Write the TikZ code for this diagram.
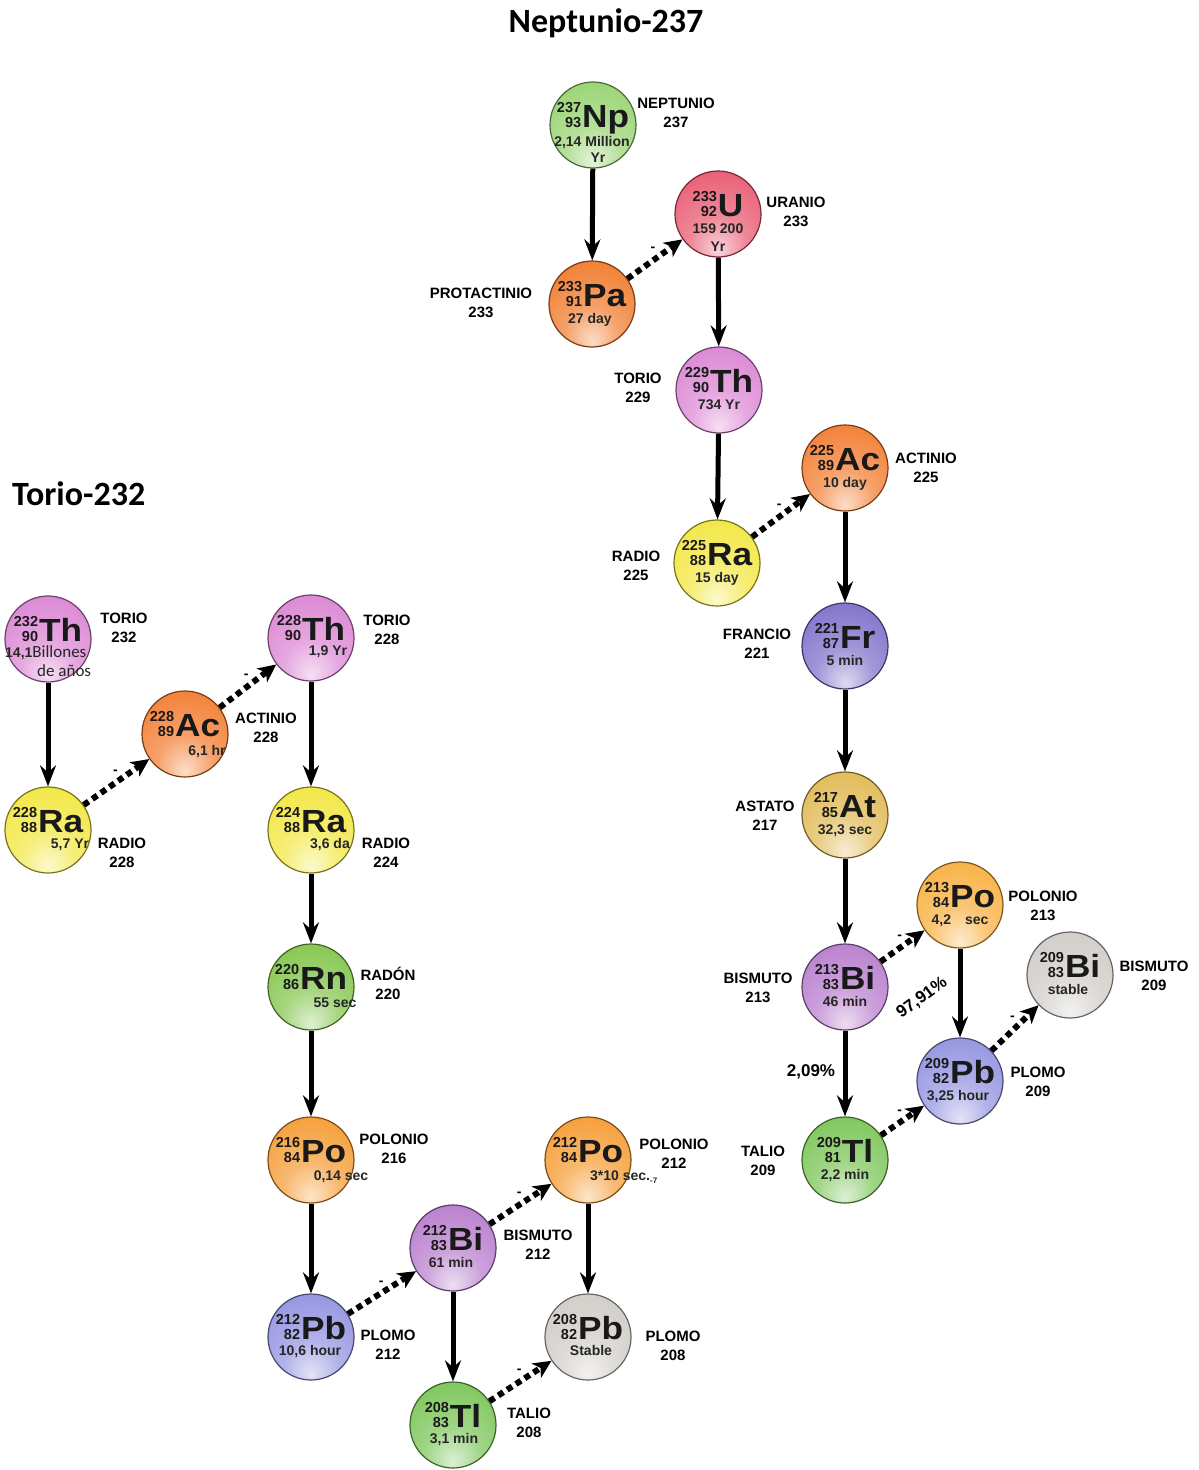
\documentclass[tikz,border=0pt]{standalone}
\usepackage{fontspec}
\setmainfont{Liberation Sans}
\newfontfamily\symf[FakeStretch=1.1]{Liberation Sans}
\newfontfamily\titf{Carlito}
\usetikzlibrary{arrows.meta,calc}

\colorlet{sphcol}{white}
\pgfdeclareradialshading[sphcol]{sphere}{\pgfqpoint{0bp}{-22bp}}{%
 color(0bp)=(sphcol!25!white);
 color(16bp)=(sphcol!70!white);
 color(42bp)=(sphcol);
 color(64bp)=(sphcol!85!black);
 color(75bp)=(sphcol!78!black)}

\definecolor{cNp}{HTML}{96D26E}
\definecolor{cU}{HTML}{E8566E}
\definecolor{cPa}{HTML}{F07828}
\definecolor{cTh}{HTML}{DA82D2}
\definecolor{cAc}{HTML}{F27A2C}
\definecolor{cRa}{HTML}{F2E63C}
\definecolor{cFr}{HTML}{7C6CC8}
\definecolor{cAt}{HTML}{E0B850}
\definecolor{cPo}{HTML}{F59A30}
\definecolor{cPoB}{HTML}{F8AE3C}
\definecolor{cBi}{HTML}{B67ACC}
\definecolor{cPb}{HTML}{9090E0}
\definecolor{cSt}{HTML}{CFCBC6}
\definecolor{cTl}{HTML}{78C454}
\definecolor{cRn}{HTML}{80C448}

\newcommand\iso[3]{\begin{tabular}[b]{@{}r@{}}#1\\#2\end{tabular}\kern1pt{\symf\bfseries\fontsize{32}{32}\selectfont #3}}

\tikzset{
  sphfill/.code={\colorlet{sphcol}{#1}\tikzset{shade,shading=sphere}},
  sph/.style={circle, minimum size=86pt, inner sep=0pt, draw=#1!50!black, line width=1.2pt, sphfill=#1},
  hdr/.style={anchor=base, inner sep=0pt, text=black!90, font=\bfseries\fontsize{14.5}{14}\selectfont},
  lifetxt/.style={anchor=base, inner sep=0pt, text=black!85, font=\bfseries\fontsize{14}{16}\selectfont},
  lab/.style={font=\bfseries\fontsize{15}{19}\selectfont, align=center, inner sep=0pt},
  pct/.style={font=\bfseries\fontsize{17}{17}\selectfont, inner sep=0pt},
  solidarr/.style={line width=5pt, -{Stealth[length=21pt,width=16pt,inset=7pt]}},
  dotarr/.style={line width=6pt, dash pattern=on 6pt off 4.5pt, -{Stealth[length=18pt,width=17pt,inset=5pt]}},
  minus/.style={pos=0.58, above left=1pt, inner sep=0pt, font=\bfseries\fontsize{14}{14}\selectfont},
}

\newcommand\elem[6]{%
  \node[sph=#3] (#1) at (#2) {};
  \path (#1.center) ++(0,2) node[hdr] (#1-h) {\iso{#4}{#5}{#6}};}
\newcommand\life[4]{%
  \path (#1.center) ++(#2,#3) node[lifetxt] (#1-l) {#4};}

\begin{document}
\begin{tikzpicture}[x=1pt,y=-1pt]
\useasboundingbox (0,0) rectangle (1199,1470);

% titles
\node[font=\titf\bfseries\fontsize{34}{34}\selectfont, anchor=base, inner sep=0pt] (title1) at (606,32) {Neptunio-237};
\node[font=\titf\bfseries\fontsize{34}{34}\selectfont, anchor=base west, inner sep=0pt] (title2) at (12,505) {Torio-232};

% ---------- Neptunio chain ----------
\elem{np}{593,125}{cNp}{237}{93}{Np}
\path (np.center) ++(-1,21) node[lifetxt] (np-l) {2,14 Million};
\path (np.center) ++(5,37) node[lifetxt] (np-l2) {Yr};
\elem{u}{718,214}{cU}{233}{92}{U}
\path (u.center) ++(0,19) node[lifetxt] (u-l) {159 200};
\path (u.center) ++(0,37) node[lifetxt] (u-l2) {Yr};
\elem{pa}{592,304}{cPa}{233}{91}{Pa}   \life{pa}{-2}{19}{27 day}
\elem{th229}{719,390}{cTh}{229}{90}{Th} \life{th229}{0}{19}{734 Yr}
\elem{ac225}{845,468}{cAc}{225}{89}{Ac} \life{ac225}{0}{19}{10 day}
\elem{ra225}{717,563}{cRa}{225}{88}{Ra} \life{ra225}{0}{19}{15 day}
\elem{fr}{845,646}{cFr}{221}{87}{Fr}    \life{fr}{0}{19}{5 min}
\elem{at}{845,815}{cAt}{217}{85}{At}    \life{at}{0}{19}{32,3 sec}
\elem{po213}{960,905}{cPoB}{213}{84}{Po} \life{po213}{0}{19}{4,2\hspace{14pt}sec}
\elem{bi213}{845,987}{cBi}{213}{83}{Bi} \life{bi213}{0}{19}{46 min}
\elem{bi209}{1070,975}{cSt}{209}{83}{Bi} \life{bi209}{-2}{19}{stable}
\elem{pb209}{960,1081}{cPb}{209}{82}{Pb} \life{pb209}{-2}{19}{3,25 hour}
\elem{tl209}{845,1160}{cTl}{209}{81}{Tl} \life{tl209}{0}{19}{2,2 min}

% ---------- Torio chain ----------
\elem{th232}{48,639}{cTh}{232}{90}{Th}
\path (th232.center) ++(-43,18) node[lifetxt, anchor=base west] (th232-l) {14,1{\titf\mdseries\fontsize{17}{17}\selectfont Billones}};
\path (th232.center) ++(-11,37) node[lifetxt, anchor=base west] (th232-l2) {\titf\mdseries\fontsize{17}{17}\selectfont de años};
\elem{ra228}{48,830}{cRa}{228}{88}{Ra}   \life{ra228}{22}{18}{5,7 Yr}
\elem{ac228}{185,734}{cAc}{228}{89}{Ac}  \life{ac228}{22}{21}{6,1 hr}
\elem{th228}{311,638}{cTh}{228}{90}{Th}  \life{th228}{17}{17}{1,9 Yr}
\elem{ra224}{311,830}{cRa}{224}{88}{Ra}  \life{ra224}{19}{18}{3,6 da}
\elem{rn}{311,987}{cRn}{220}{86}{Rn}     \life{rn}{24}{20}{55 sec}
\elem{po216}{311,1160}{cPo}{216}{84}{Po} \life{po216}{30}{20}{0,14 sec}
\elem{pb212}{311,1337}{cPb}{212}{82}{Pb} \life{pb212}{-1}{18}{10,6 hour}
\elem{bi212}{453,1248}{cBi}{212}{83}{Bi} \life{bi212}{-2}{19}{61 min}
\elem{po212}{588,1160}{cPo}{212}{84}{Po}
\path (po212.center) ++(2,20) node[lifetxt, anchor=base west] (po212-l) {3*10 sec.\raisebox{-3pt}{\fontsize{8}{8}\selectfont -7}};
\elem{pb208}{588,1337}{cSt}{208}{82}{Pb} \life{pb208}{3}{18}{Stable}
\elem{tl208}{453,1425}{cTl}{208}{83}{Tl} \life{tl208}{1}{18}{3,1 min}

% ---------- names ----------
\node[lab] (n-np) at (676,113) {NEPTUNIO\\237};
\node[lab] (n-u) at (796,212) {URANIO\\233};
\node[lab] (n-pa) at (481,303) {PROTACTINIO\\233};
\node[lab] (n-th229) at (638,388) {TORIO\\229};
\node[lab] (n-ac225) at (926,468) {ACTINIO\\225};
\node[lab] (n-ra225) at (636,566) {RADIO\\225};
\node[lab] (n-fr) at (757,644) {FRANCIO\\221};
\node[lab] (n-at) at (765,816) {ASTATO\\217};
\node[lab] (n-po213) at (1043,906) {POLONIO\\213};
\node[lab] (n-bi213) at (758,988) {BISMUTO\\213};
\node[lab] (n-bi209) at (1154,976) {BISMUTO\\209};
\node[lab] (n-pb209) at (1038,1082) {PLOMO\\209};
\node[lab] (n-tl209) at (763,1161) {TALIO\\209};
\node[lab] (n-th232) at (124,628) {TORIO\\232};
\node[lab] (n-th228) at (387,630) {TORIO\\228};
\node[lab] (n-ac228) at (266,728) {ACTINIO\\228};
\node[lab] (n-ra228) at (122,853) {RADIO\\228};
\node[lab] (n-ra224) at (386,853) {RADIO\\224};
\node[lab] (n-rn) at (388,983) {RADÓN\\220};
\node[lab] (n-po216) at (394,1149) {POLONIO\\216};
\node[lab] (n-pb212) at (388,1345) {PLOMO\\212};
\node[lab] (n-bi212) at (538,1245) {BISMUTO\\212};
\node[lab] (n-po212) at (674,1154) {POLONIO\\212};
\node[lab] (n-pb208) at (673,1346) {PLOMO\\208};
\node[lab] (n-tl208) at (529,1423) {TALIO\\208};
\node[pct] (p209) at (811,1072) {2,09\%};
\node[pct, rotate=36] (p9791) at (922,998) {97,91\%};

% ---------- solid arrows ----------
\draw[solidarr] (np) -- (pa);
\draw[solidarr] (u) -- (th229);
\draw[solidarr] (th229) -- (ra225);
\draw[solidarr] (ac225) -- (fr);
\draw[solidarr] (fr) -- (at);
\draw[solidarr] (at) -- (bi213);
\draw[solidarr] (bi213) -- (tl209);
\draw[solidarr] (po213) -- (pb209);
\draw[solidarr] (th232) -- (ra228);
\draw[solidarr] (th228) -- (ra224);
\draw[solidarr] (ra224) -- (rn);
\draw[solidarr] (rn) -- (po216);
\draw[solidarr] (po216) -- (pb212);
\draw[solidarr] (bi212) -- (tl208);
\draw[solidarr] (po212) -- (pb208);

% ---------- dotted arrows ----------
\draw[dotarr] (pa) -- node[minus] (m1) {-} (u);
\draw[dotarr] (ra225) -- node[minus] (m2) {-} (ac225);
\draw[dotarr] (bi213) -- node[minus] (m3) {-} (po213);
\draw[dotarr] (pb209) -- node[minus] (m4) {-} (bi209);
\draw[dotarr] (tl209) -- node[minus] (m5) {-} (pb209);
\draw[dotarr] (ra228) -- node[minus] (m6) {-} (ac228);
\draw[dotarr] (ac228) -- node[minus] (m7) {-} (th228);
\draw[dotarr] (pb212) -- node[minus] (m8) {-} (bi212);
\draw[dotarr] (bi212) -- node[minus] (m9) {-} (po212);
\draw[dotarr] (tl208) -- node[minus] (m10) {-} (pb208);
\end{tikzpicture}
\end{document}
